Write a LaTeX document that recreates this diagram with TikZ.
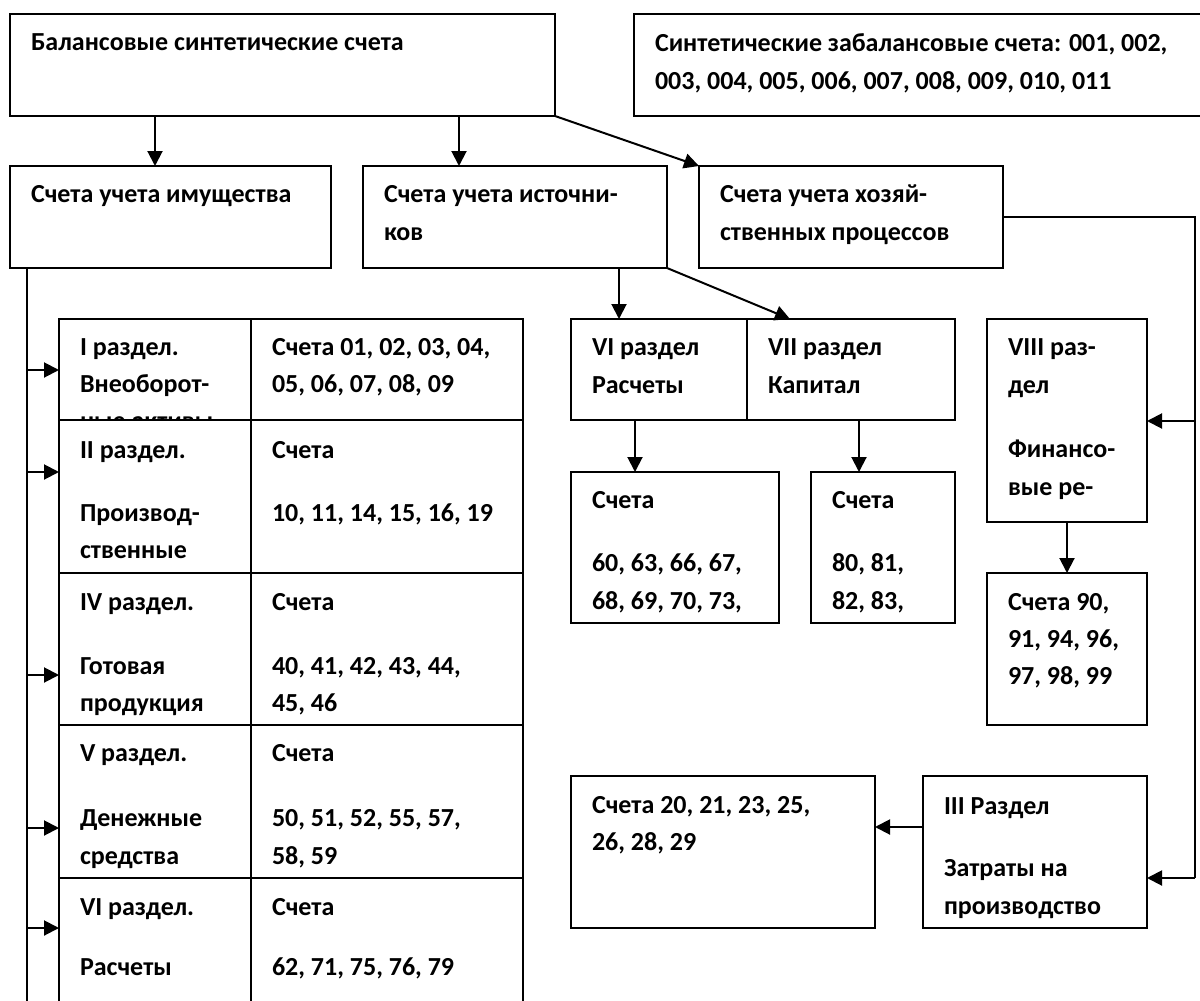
\documentclass[tikz,border=0pt]{standalone}
\usepackage{fontspec}
\setmainfont{Carlito}
\usetikzlibrary{arrows.meta}
\begin{document}
\begin{tikzpicture}[x=1pt,y=-1pt,
  box/.style={draw, line width=2pt, rectangle, inner sep=0pt, outer sep=0pt, anchor=north west},
  txt/.style={anchor=base west, inner sep=0pt, outer sep=0pt, font=\fontsize{26}{37}\selectfont\bfseries},
  arr/.style={line width=2pt, -{Triangle[length=15pt,width=15pt]}},
  ln/.style={line width=2pt}]
\clip (0,0) rectangle (1200,1001);
\fill[white] (0,0) rectangle (1200,1001);

% ---------- top level boxes ----------
\node[box, minimum width=545pt, minimum height=102pt] (top) at (10,14) {};
\node[box, minimum width=581pt, minimum height=102pt] (zab) at (634,14) {};
\node[box, minimum width=321pt, minimum height=102pt] (b1) at (10,166) {};
\node[box, minimum width=304pt, minimum height=102pt] (b2) at (363,166) {};
\node[box, minimum width=304pt, minimum height=102pt] (b3) at (699,166) {};

\node[txt] (ttop) at (31,50) {Балансовые синтетические счета};
\node[txt] (tzab1) at (655,51) {Синтетические забалансовые счета: 001, 002,};
\node[txt] (tzab2) at (655,89) {003, 004, 005, 006, 007, 008, 009, 010, 011};
\node[txt] (tb1) at (31,202) {Счета учета имущества};
\node[txt] (tb2a) at (384,202) {Счета учета источни-};
\node[txt] (tb2b) at (384,240) {ков};
\node[txt] (tb3a) at (720,202) {Счета учета хозяй-};
\node[txt] (tb3b) at (720,240) {ственных процессов};

% ---------- middle boxes ----------
\node[box, minimum width=176pt, minimum height=101pt] (r6) at (571,319) {};
\node[box, minimum width=208pt, minimum height=101pt] (r7) at (747,319) {};
\node[box, minimum width=208pt, minimum height=151pt] (s60) at (571,472) {};
\node[box, minimum width=144pt, minimum height=151pt] (s80) at (811,472) {};
\node[box, minimum width=160pt, minimum height=203pt] (r8) at (987,319) {};
\node[box, minimum width=160pt, minimum height=152pt] (s90) at (987,573) {};
\node[box, minimum width=304pt, minimum height=152pt] (s20) at (571,776) {};
\node[box, minimum width=224pt, minimum height=152pt] (r3) at (923,776) {};

\node[txt] (tr6a) at (592,355) {VI раздел};
\node[txt] (tr6b) at (592,393) {Расчеты};
\node[txt] (tr7a) at (768,355) {VII раздел};
\node[txt] (tr7b) at (768,393) {Капитал};
\node[txt] (ts60a) at (592,508) {Счета};
\node[txt] (ts60b) at (592,571) {60, 63, 66, 67,};
\node[txt] (ts60c) at (592,609) {68, 69, 70, 73,};
\node[txt] (ts80a) at (832,508) {Счета};
\node[txt] (ts80b) at (832,571) {80, 81,};
\node[txt] (ts80c) at (832,609) {82, 83,};
\node[txt] (tr8a) at (1008,355) {VIII раз-};
\node[txt] (tr8b) at (1008,393) {дел};
\node[txt] (tr8c) at (1008,457) {Финансо-};
\node[txt] (tr8d) at (1008,495) {вые ре-};
\node[txt] (ts90a) at (1008,610) {Счета 90,};
\node[txt] (ts90b) at (1008,647) {91, 94, 96,};
\node[txt] (ts90c) at (1008,684) {97, 98, 99};
\node[txt] (ts20a) at (592,813) {Счета 20, 21, 23, 25,};
\node[txt] (ts20b) at (592,850) {26, 28, 29};
\node[txt] (tr3a) at (944,814) {III Раздел};
\node[txt] (tr3b) at (944,876) {Затраты на};
\node[txt] (tr3c) at (944,914) {производство};

% ---------- table ----------
\begin{scope}
\clip (59,319) rectangle (251,420);
\node[txt] (tI1) at (80,355) {I раздел.};
\node[txt] (tI2) at (80,392) {Внеоборот-};
\node[txt] (tI3) at (80,429) {ные активы};
\end{scope}
\node[txt] (tI4) at (272,355) {Счета 01, 02, 03, 04,};
\node[txt] (tI5) at (272,392) {05, 06, 07, 08, 09};

\node[txt] (tII1) at (80,458) {II раздел.};
\node[txt] (tII2) at (80,521) {Производ-};
\node[txt] (tII3) at (80,558) {ственные};
\node[txt] (tII4) at (272,458) {Счета};
\node[txt] (tII5) at (272,521) {10, 11, 14, 15, 16, 19};

\node[txt] (tIV1) at (80,610) {IV раздел.};
\node[txt] (tIV2) at (80,674) {Готовая};
\node[txt] (tIV3) at (80,711) {продукция};
\node[txt] (tIV4) at (272,610) {Счета};
\node[txt] (tIV5) at (272,674) {40, 41, 42, 43, 44,};
\node[txt] (tIV6) at (272,711) {45, 46};

\node[txt] (tV1) at (80,761) {V раздел.};
\node[txt] (tV2) at (80,826) {Денежные};
\node[txt] (tV3) at (80,864) {средства};
\node[txt] (tV4) at (272,761) {Счета};
\node[txt] (tV5) at (272,826) {50, 51, 52, 55, 57,};
\node[txt] (tV6) at (272,864) {58, 59};

\node[txt] (tVI1) at (80,915) {VI раздел.};
\node[txt] (tVI2) at (80,975) {Расчеты};
\node[txt] (tVI3) at (272,915) {Счета};
\node[txt] (tVI4) at (272,975) {62, 71, 75, 76, 79};

\node[box, minimum width=192pt, minimum height=101pt] (c1L) at (59,319) {};
\node[box, minimum width=272pt, minimum height=101pt] (c1R) at (251,319) {};
\node[box, minimum width=192pt, minimum height=153pt] (c2L) at (59,420) {};
\node[box, minimum width=272pt, minimum height=153pt] (c2R) at (251,420) {};
\node[box, minimum width=192pt, minimum height=152pt] (c4L) at (59,573) {};
\node[box, minimum width=272pt, minimum height=152pt] (c4R) at (251,573) {};
\node[box, minimum width=192pt, minimum height=153pt] (c5L) at (59,725) {};
\node[box, minimum width=272pt, minimum height=153pt] (c5R) at (251,725) {};
\node[box, minimum width=192pt, minimum height=142pt] (c6L) at (59,878) {};
\node[box, minimum width=272pt, minimum height=142pt] (c6R) at (251,878) {};

% ---------- connectors ----------
\draw[arr] (top.south -| 155,0) -- (b1.north -| 155,0);
\draw[arr] (top.south -| 459,0) -- (b2.north -| 459,0);
\draw[arr] (top.south east) -- (b3.north west);
\draw[arr] (b2.south -| 619,0) -- (r6.north -| 619,0);
\draw[arr] (b2.south east) -- (r7.north -| 790,0);
\draw[arr] (r6.south -| 635,0) -- (s60.north -| 635,0);
\draw[arr] (r7.south -| 859,0) -- (s80.north -| 859,0);
\draw[arr] (r8.south) -- (s90.north);
\draw[arr] (r3.west |- 0,827) -- (s20.east |- 0,827);

% right trunk
\coordinate (rbot) at (1195,878);
\coordinate (rmid) at (1195,421);
\draw[ln] (b3.east) -| (rbot);
\draw[arr] (rbot) -- (rbot -| r3.east);
\draw[arr] (rmid) -- (rmid -| r8.east);

% left trunk
\coordinate (ltop) at (27,268);
\coordinate (lbot) at (27,1001);
\draw[ln] (ltop) -- (lbot);
\coordinate (l1) at (27,370);
\coordinate (l2) at (27,472);
\coordinate (l4) at (27,675);
\coordinate (l5) at (27,828);
\coordinate (l6) at (27,928);
\draw[arr] (l1) -- (l1 -| c1L.west);
\draw[arr] (l2) -- (l2 -| c2L.west);
\draw[arr] (l4) -- (l4 -| c4L.west);
\draw[arr] (l5) -- (l5 -| c5L.west);
\draw[arr] (l6) -- (l6 -| c6L.west);
\end{tikzpicture}
\end{document}
